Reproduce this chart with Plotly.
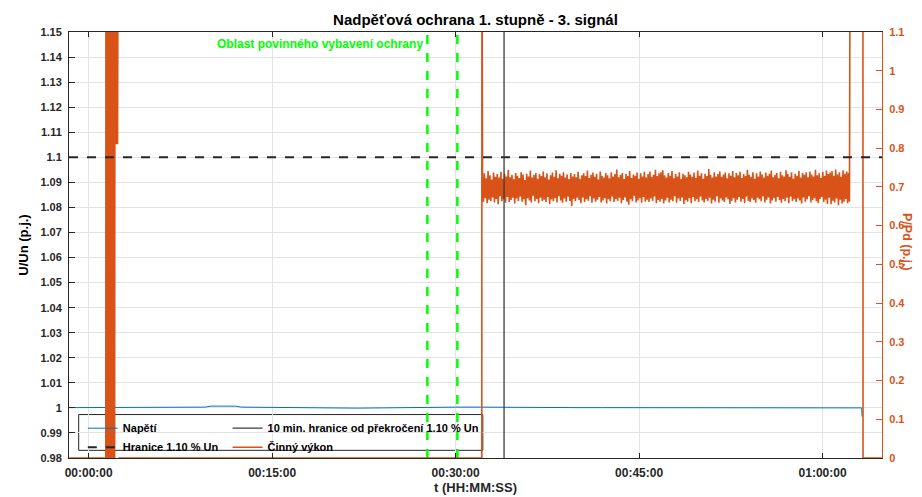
import numpy as np
import plotly.graph_objects as go

# ---------------- data ----------------
title_text = "Nadpěťová ochrana 1. stupně - 3. signál"

# Voltage U/Un (p.j.), time in minutes
u_time = [-1.6, 0, 2, 4, 6, 8, 9.5, 10, 11, 12, 12.5, 14, 16, 18, 20, 22, 24, 26, 28,
          30, 32, 34, 36, 38, 40, 42, 44, 46, 48, 50, 52, 54, 56, 58, 60, 62, 63.2, 63.23]
u_vals = [1.0001, 1.0001, 1.0002, 1.0001, 1.0002, 1.0002, 1.0003, 1.0007, 1.0008, 1.0007,
          1.0003, 1.0002, 1.0002, 1.0001, 1.0000, 0.9999, 1.0000, 1.0002, 1.0002, 1.0003,
          1.0003, 1.0002, 1.0002, 1.0001, 1.0001, 1.0001, 1.0001, 1.0001, 1.0000, 1.0000,
          1.0000, 1.0000, 1.0000, 1.0000, 1.0000, 1.0000, 1.0000, 0.9965]

u_limit = 1.10            # Hranice 1.10 % Un
t_10min = 33.96           # 10 min. hranice od překročení
t_zone = [27.69, 30.14]   # Oblast povinného vybavení ochrany

# Active power P/Pd (p.j.)
p_start_time = [-1.6, 1.40]
p_start_vals = [0.0, 0.0]
p_spike_vals = [1.35, 0.0, 1.35, 0.0, 1.35, 0.0, 1.35, 0.0, 1.35, 0.0, 1.35, 0.0,
                1.35, 0.0, 1.35, 0.0, 1.35, 0.0, 1.35, 0.0, 1.35, 0.0, 1.35, 0.0,
                1.35, 0.0, 1.35, 0.0, 1.35, 0.0, 1.35, 0.0]
p_spike_span = [1.41, 2.12]
p_tail_vals = [1.35, 0.81, 1.35, 0.81, 1.35, 0.81, 1.35]
p_tail_span = [2.15, 2.40]
p_off_time = [2.41, 32.14, 32.15]
p_off_vals = [0.0, 0.0, 1.35]
p_noise_span = [32.2, 62.2]
p_noise_vals = [
    0.728, 0.662, 0.735, 0.671, 0.722, 0.658, 0.741, 0.667, 0.730, 0.664, 0.719, 0.673, 0.737, 0.660, 0.726, 0.669, 0.733, 0.655, 0.724, 0.676,
    0.739, 0.663, 0.721, 0.668, 0.734, 0.659, 0.727, 0.674, 0.744, 0.661, 0.725, 0.666, 0.731, 0.672, 0.720, 0.657, 0.736, 0.670, 0.729, 0.664,
    0.723, 0.675, 0.738, 0.662, 0.732, 0.668, 0.718, 0.653, 0.734, 0.671, 0.727, 0.665, 0.742, 0.660, 0.724, 0.677, 0.731, 0.663, 0.736, 0.669,
    0.721, 0.658, 0.733, 0.672, 0.728, 0.664, 0.740, 0.667, 0.725, 0.661, 0.735, 0.674, 0.719, 0.656, 0.730, 0.668, 0.737, 0.663, 0.726, 0.671,
    0.743, 0.660, 0.722, 0.676, 0.734, 0.665, 0.729, 0.659, 0.738, 0.670, 0.724, 0.662, 0.732, 0.675, 0.720, 0.664, 0.736, 0.651, 0.727, 0.669,
    0.733, 0.663, 0.725, 0.672, 0.739, 0.666, 0.721, 0.658, 0.730, 0.673, 0.735, 0.661, 0.728, 0.668, 0.742, 0.664, 0.723, 0.676, 0.731, 0.659,
    0.737, 0.670, 0.726, 0.662, 0.734, 0.667, 0.719, 0.674, 0.740, 0.660, 0.729, 0.665, 0.724, 0.671, 0.736, 0.657, 0.730, 0.668, 0.722, 0.663,
    0.738, 0.675, 0.727, 0.661, 0.733, 0.669, 0.745, 0.664, 0.725, 0.672, 0.731, 0.658, 0.736, 0.666, 0.720, 0.673, 0.734, 0.662, 0.728, 0.654,
    0.741, 0.668, 0.723, 0.663, 0.732, 0.677, 0.729, 0.660, 0.737, 0.665, 0.721, 0.671, 0.735, 0.659, 0.727, 0.674, 0.739, 0.662, 0.724, 0.667,
    0.733, 0.661, 0.740, 0.670, 0.726, 0.664, 0.731, 0.675, 0.744, 0.658, 0.728, 0.666, 0.735, 0.662, 0.738, 0.669, 0.743, 0.657, 0.730, 0.665,
    0.724, 0.672, 0.736, 0.660, 0.729, 0.667, 0.741, 0.663, 0.722, 0.676, 0.733, 0.659, 0.727, 0.670, 0.738, 0.664, 0.720, 0.673, 0.734, 0.656,
    0.730, 0.666, 0.725, 0.662, 0.739, 0.671, 0.732, 0.658, 0.726, 0.674, 0.737, 0.663, 0.723, 0.668, 0.742, 0.661, 0.729, 0.675, 0.735, 0.665,
    0.721, 0.660, 0.734, 0.669, 0.728, 0.664, 0.746, 0.672, 0.731, 0.657, 0.724, 0.667, 0.738, 0.662, 0.727, 0.676, 0.733, 0.659, 0.740, 0.670,
    0.726, 0.665, 0.732, 0.661, 0.737, 0.673, 0.722, 0.668, 0.735, 0.656, 0.729, 0.664, 0.741, 0.671, 0.725, 0.660, 0.736, 0.667, 0.730, 0.674,
    0.739, 0.662, 0.723, 0.669, 0.733, 0.658, 0.728, 0.675, 0.744, 0.664, 0.731, 0.661, 0.726, 0.670, 0.738, 0.666, 0.721, 0.659, 0.735, 0.672,
    0.727, 0.668, 0.740, 0.663, 0.732, 0.676, 0.724, 0.660, 0.737, 0.667, 0.729, 0.673, 0.734, 0.657, 0.742, 0.665, 0.725, 0.671, 0.731, 0.662,
    0.736, 0.674, 0.722, 0.666, 0.739, 0.659, 0.730, 0.669, 0.727, 0.663, 0.743, 0.672, 0.733, 0.658, 0.726, 0.675, 0.738, 0.664, 0.721, 0.668,
    0.734, 0.661, 0.729, 0.670, 0.741, 0.665, 0.724, 0.657, 0.736, 0.673, 0.731, 0.662, 0.738, 0.668, 0.725, 0.676, 0.740, 0.660, 0.732, 0.666,
    0.727, 0.671, 0.744, 0.663, 0.730, 0.658, 0.735, 0.669, 0.723, 0.674, 0.739, 0.661, 0.728, 0.667, 0.742, 0.656, 0.733, 0.672, 0.737, 0.655,
    0.741, 0.664, 0.729, 0.660, 0.745, 0.670, 0.732, 0.653, 0.738, 0.667, 0.726, 0.657, 0.743, 0.662, 0.734, 0.669, 0.740, 0.658, 0.736, 0.662,
]
p_end_time = [62.25, 63.30, 63.31, 64.85]
p_end_vals = [1.35, 1.35, 0.0, 0.0]

# axes / ticks
x_range = [-1.61, 64.86]
x_tickvals = [0, 15, 30, 45, 60]
x_ticktext = ["00:00:00", "00:15:00", "00:30:00", "00:45:00", "01:00:00"]
u_range = [0.98, 1.15]
u_tickvals = [0.98, 0.99, 1.00, 1.01, 1.02, 1.03, 1.04, 1.05, 1.06, 1.07, 1.08,
              1.09, 1.10, 1.11, 1.12, 1.13, 1.14, 1.15]
u_ticktext = ["0.98", "0.99", "1", "1.01", "1.02", "1.03", "1.04", "1.05", "1.06", "1.07",
              "1.08", "1.09", "1.1", "1.11", "1.12", "1.13", "1.14", "1.15"]
p_range = [0, 1.1]
p_tickvals = [0, 0.1, 0.2, 0.3, 0.4, 0.5, 0.6, 0.7, 0.8, 0.9, 1.0, 1.1]
p_ticktext = ["0", "0.1", "0.2", "0.3", "0.4", "0.5", "0.6", "0.7", "0.8", "0.9", "1", "1.1"]

# ---------------- build series ----------------
spike_t = np.linspace(p_spike_span[0], p_spike_span[1], len(p_spike_vals)).tolist()
tail_t = np.linspace(p_tail_span[0], p_tail_span[1], len(p_tail_vals)).tolist()
noise_t = np.linspace(p_noise_span[0], p_noise_span[1], len(p_noise_vals)).tolist()

p_time = p_start_time + spike_t + tail_t + [None] + p_off_time + noise_t + p_end_time
p_vals = p_start_vals + p_spike_vals + p_tail_vals + [None] + p_off_vals + p_noise_vals + p_end_vals

BLUE = "#0072BD"
ORANGE = "#D95319"
DARK = "#262626"
GREEN = "#00FF00"
FONT = "Liberation Sans"

fig = go.Figure()

fig.add_trace(go.Scatter(
    x=u_time, y=u_vals, mode="lines", name="Napětí",
    line=dict(color=BLUE, width=1), yaxis="y", legend="legend", legendrank=1))

for tz in t_zone:
    fig.add_trace(go.Scatter(
        x=[tz, tz], y=u_range, mode="lines", showlegend=False,
        line=dict(color=GREEN, width=2.5, dash="dash"), yaxis="y", hoverinfo="skip"))

fig.add_trace(go.Scatter(
    x=p_time, y=p_vals, mode="lines", name="Činný výkon", connectgaps=False,
    line=dict(color=ORANGE, width=1.6), yaxis="y2", legend="legend2", legendrank=4))

# shapes drawn above traces (dashed limit & 10-min boundary)
fig.add_shape(type="line", xref="paper", x0=0, x1=1, yref="y", y0=u_limit, y1=u_limit,
              line=dict(color=DARK, width=2, dash="dash"), layer="above",
              showlegend=True, name="Hranice 1.10 % Un", legend="legend", legendrank=2)
fig.add_shape(type="line", xref="x", x0=t_10min, x1=t_10min, yref="paper", y0=0, y1=1,
              line=dict(color="#3a3a3a", width=1.3), layer="above",
              showlegend=True, name="10 min. hranice od překročení 1.10 % Un",
              legend="legend2", legendrank=3)

# legend box
fig.add_shape(type="rect", xref="paper", yref="paper",
              x0=0.0119, x1=0.509, y0=0.018, y1=0.102,
              line=dict(color=DARK, width=1), fillcolor="white", layer="between")

fig.add_annotation(x=t_zone[0], xref="x", xanchor="right", xshift=-2,
                   y=0.972, yref="paper", yanchor="middle",
                   text="Oblast povinného vybavení ochrany", showarrow=False,
                   font=dict(family=FONT, size=12, color=GREEN, weight="bold"))

fig.add_annotation(x=1.03, xref="paper", xanchor="center", y=0.506, yref="paper",
                   yanchor="middle",
                   text="P/Pd (p.j.)", textangle=90, showarrow=False,
                   font=dict(family=FONT, size=12.5, color=ORANGE, weight="bold"))

tick_font = dict(family=FONT, size=11, color=DARK, weight="bold")

fig.update_layout(
    width=922, height=497,
    margin=dict(l=61, r=48, t=24, b=42),
    paper_bgcolor="white", plot_bgcolor="white",
    font=dict(family=FONT, color=DARK),
    title=dict(text=title_text, x=0.5, xref="paper", xanchor="center",
               y=1 - 12 / 497, yref="container", yanchor="middle",
               font=dict(family=FONT, size=15, color="black", weight="bold")),
    xaxis=dict(range=x_range, tickvals=x_tickvals, ticktext=x_ticktext,
               ticks="inside", ticklen=5, tickcolor=DARK, tickwidth=1,
               showline=True, linecolor=DARK, linewidth=1, mirror="ticks",
               showgrid=True, gridcolor="#e3e3e3", zeroline=False,
               tickfont=dict(family=FONT, size=12, color=DARK, weight="bold"),
               ticklabelstandoff=4,
               title=dict(text="t (HH:MM:SS)", standoff=3,
                          font=dict(family=FONT, size=13, color=DARK, weight="bold"))),
    yaxis=dict(range=u_range, tickvals=u_tickvals, ticktext=u_ticktext,
               ticks="inside", ticklen=6, tickcolor=DARK, tickwidth=1,
               showline=True, linecolor=DARK, linewidth=1,
               showgrid=True, gridcolor="#e3e3e3", zeroline=False,
               tickfont=tick_font, ticklabelstandoff=4,
               title=dict(text="U/Un (p.j.)", standoff=8,
                          font=dict(family=FONT, size=13, color="black", weight="bold"))),
    yaxis2=dict(range=p_range, tickvals=p_tickvals, ticktext=p_ticktext,
                overlaying="y", side="right",
                ticks="inside", ticklen=6, tickcolor=ORANGE, tickwidth=1,
                showline=True, linecolor=ORANGE, linewidth=1,
                showgrid=False, zeroline=False,
                tickfont=dict(family=FONT, size=11, color=ORANGE, weight="bold"),
                ticklabelstandoff=4),
    legend=dict(x=0.017, y=0.104, xanchor="left", yanchor="top",
                bgcolor="rgba(0,0,0,0)", borderwidth=0,
                font=dict(family=FONT, size=11, color="black", weight="bold"),
                tracegroupgap=0),
    legend2=dict(x=0.195, y=0.104, xanchor="left", yanchor="top",
                 bgcolor="rgba(0,0,0,0)", borderwidth=0,
                 font=dict(family=FONT, size=11, color="black", weight="bold"),
                 tracegroupgap=0),
    showlegend=True,
)

fig.write_html("out.html")
